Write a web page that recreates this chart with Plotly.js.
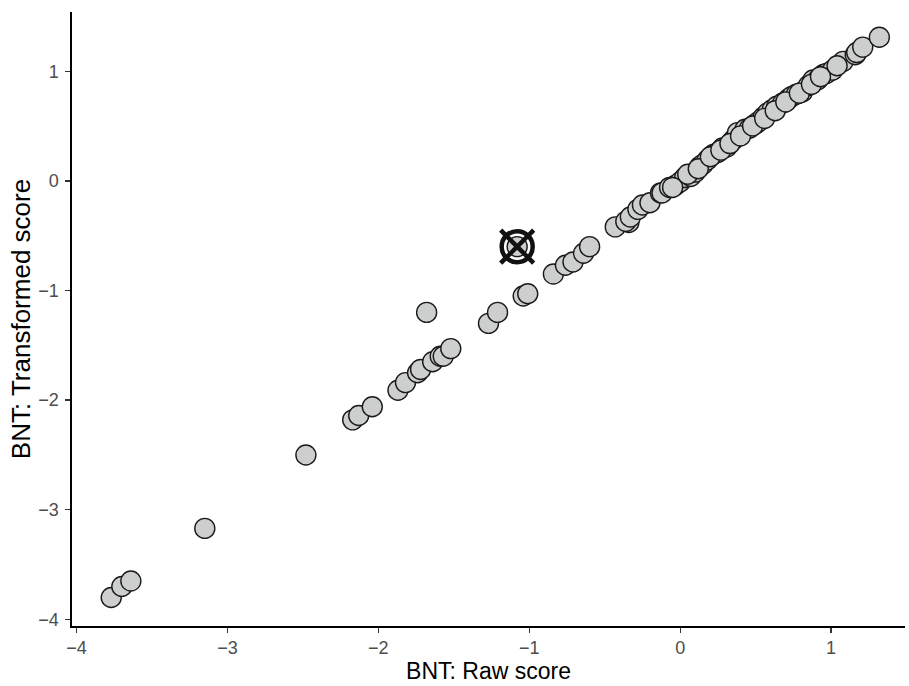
<!DOCTYPE html>
<html>
<head>
<meta charset="utf-8">
<script src="https://cdn.plot.ly/plotly-3.0.1.min.js"></script>
<style>html,body{margin:0;padding:0;background:#fff;}#chart{width:909px;height:686px;}</style>
</head>
<body>
<div id="chart"></div>
<script>
const rawScore = [-3.77,-3.70,-3.64,-3.15,-2.48,-2.17,-2.13,-2.04,-1.87,-1.82,-1.68,-1.74,-1.72,-1.64,-1.59,-1.57,-1.52,-1.27,-1.21,-1.08,-1.04,-1.01,-0.84,-0.76,-0.71,-0.64,-0.60,-0.43,-0.34,-0.36,-0.33,-0.28,-0.25,-0.20,-0.13,-0.12,-0.07,-0.03,0.00,0.03,0.07,0.10,0.13,0.15,0.18,0.22,0.25,0.28,0.31,0.35,0.38,0.43,0.46,0.50,0.52,0.55,0.58,0.61,0.64,0.68,0.72,0.74,0.77,0.81,0.85,0.88,0.91,0.95,0.97,1.01,1.08,1.16,1.17,1.21,1.32,
  -0.05,0.05,0.12,0.20,0.27,0.33,0.40,0.48,0.56,0.63,0.70,0.79,0.87,0.93,1.04];
const transformedScore = [-3.80,-3.70,-3.65,-3.17,-2.50,-2.18,-2.14,-2.06,-1.91,-1.84,-1.20,-1.75,-1.72,-1.65,-1.60,-1.60,-1.53,-1.30,-1.20,-0.60,-1.05,-1.03,-0.85,-0.77,-0.74,-0.66,-0.60,-0.42,-0.38,-0.37,-0.33,-0.26,-0.22,-0.20,-0.11,-0.11,-0.06,-0.04,-0.01,0.03,0.04,0.08,0.13,0.15,0.19,0.24,0.26,0.30,0.31,0.37,0.44,0.47,0.48,0.52,0.54,0.58,0.62,0.65,0.68,0.71,0.75,0.77,0.79,0.81,0.87,0.92,0.92,0.97,0.98,1.01,1.09,1.15,1.17,1.22,1.31,
  -0.06,0.06,0.11,0.22,0.28,0.34,0.41,0.50,0.57,0.64,0.72,0.80,0.88,0.95,1.05];
const flaggedRaw = [-1.08];
const flaggedTransformed = [-0.60];

const xTicks = [-4,-3,-2,-1,0,1];
const xTickLabels = ['\u22124','\u22123','\u22122','\u22121','0','1'];
const yTicks = [-4,-3,-2,-1,0,1];
const yTickLabels = ['\u22124','\u22123','\u22122','\u22121','0','1'];

const traces = [
  {x: rawScore, y: transformedScore, type:'scatter', mode:'markers',
   marker:{size:20, color:'#cdcfce', line:{color:'#1a1a1a', width:1.4}}, hoverinfo:'x+y'},
  {x: flaggedRaw, y: flaggedTransformed, type:'scatter', mode:'markers',
   marker:{symbol:'circle-open', size:31, color:'#111111', line:{color:'#111111', width:4.5}}},
  {x: flaggedRaw, y: flaggedTransformed, type:'scatter', mode:'markers',
   marker:{symbol:'x-thin-open', size:33, color:'#111111', line:{color:'#111111', width:4.5}}}
];

const fontFam = 'Liberation Sans';

const layout = {
  width:909, height:686,
  margin:{l:72, r:4, t:12, b:60},
  paper_bgcolor:'#ffffff', plot_bgcolor:'#ffffff',
  showlegend:false,
  font:{family:fontFam, size:18, color:'#4d4d4d'},
  xaxis: {
    showline:true, linecolor:'#000000', linewidth:1.6,
    showgrid:false, zeroline:false, ticks:'outside', ticklen:5, tickwidth:1.3, tickcolor:'#333333',
    tickfont:{family:fontFam, size:18, color:'#4d4d4d'},
    range:[-4.03,1.49], tickmode:'array', tickvals:xTicks, ticktext:xTickLabels, ticklabelstandoff:0,
    title:{text:'BNT: Raw score', font:{family:fontFam, size:23, color:'#000'}, standoff:0}
  },
  yaxis: {
    showline:true, linecolor:'#000000', linewidth:1.6,
    showgrid:false, zeroline:false, ticks:'outside', ticklen:5, tickwidth:1.3, tickcolor:'#333333',
    tickfont:{family:fontFam, size:18, color:'#4d4d4d'},
    range:[-4.06,1.54], tickmode:'array', tickvals:yTicks, ticktext:yTickLabels, ticklabelstandoff:3,
    title:{text:'BNT: Transformed score', font:{family:fontFam, size:26, color:'#000'}, standoff:0}
  }
};

Plotly.newPlot('chart', traces, layout, {displayModeBar:false, staticPlot:true});
</script>
</body>
</html>
